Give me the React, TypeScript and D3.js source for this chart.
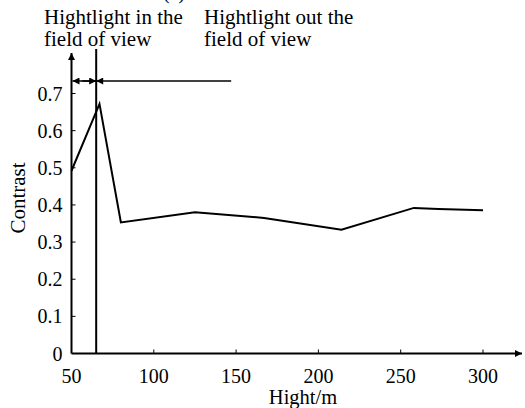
import React from "react";
import * as d3 from "d3";

const heights = [50, 67, 80, 125, 167, 214, 258, 273, 300];
const contrast = [0.492, 0.672, 0.353, 0.38, 0.365, 0.333, 0.392, 0.389, 0.386];
const xTicks = [50, 100, 150, 200, 250, 300];
const yTicks = [0, 0.1, 0.2, 0.3, 0.4, 0.5, 0.6, 0.7];
const boundary = 65;
const arrowEnd = 147;

const W = 525, H = 408;
const FONT = "'Liberation Serif', 'Times New Roman', serif";

export default function App() {
  const x = d3.scaleLinear().domain([50, 300]).range([71.5, 483]);
  const y = d3.scaleLinear().domain([0, 0.7]).range([353.5, 93.5]);
  const line = d3.line<number>().x((_, i) => x(heights[i])).y((d) => y(d));
  const x0 = x(50), y0 = y(0);
  const bx = x(boundary);
  const ay = 81;
  return (
    <svg width={W} height={H} style={{ position: "absolute", left: 0, top: 0, background: "#fff" }}
      fontFamily={FONT}>
      <defs>
        <marker id="ah" viewBox="0 0 10 10" refX="10" refY="5" markerWidth="10" markerHeight="7" orient="auto-start-reverse" markerUnits="userSpaceOnUse">
          <path d="M0,0 L10,5 L0,10 z" fill="#000" />
        </marker>
      </defs>
      <text x={163} y={-1} fontSize={20}>(a)</text>
      <line x1={x0} y1={y0} x2={522} y2={y0} stroke="#000" strokeWidth={2} markerEnd="url(#ah)" />
      <line x1={x0} y1={y0} x2={x0} y2={53} stroke="#000" strokeWidth={2} markerEnd="url(#ah)" />
      {xTicks.map((t) => (
        <g key={t}>
          {t !== 50 && <line x1={x(t)} x2={x(t)} y1={y0} y2={y0 - 4} stroke="#000" strokeWidth={1} />}
          <text x={x(t)} y={383} fontSize={20} textAnchor="middle">{t}</text>
        </g>
      ))}
      {yTicks.map((t) => (
        <g key={t}>
          {t !== 0 && <line x1={x0} x2={x0 + 4} y1={y(t)} y2={y(t)} stroke="#000" strokeWidth={1} />}
          <text x={x0 - 9} y={y(t) + 7} fontSize={20} textAnchor="end">{t === 0 ? "0" : t.toFixed(1)}</text>
        </g>
      ))}
      <text x={303} y={403.5} fontSize={20.5} textAnchor="middle">Hight/m</text>
      <text transform={`translate(25,198) rotate(-90)`} fontSize={21} textAnchor="middle">Contrast</text>
      <line x1={bx} x2={bx} y1={49} y2={y0} stroke="#000" strokeWidth={2} />
      <line x1={bx} x2={x0 + 1} y1={ay} y2={ay} stroke="#000" strokeWidth={1.5} markerEnd="url(#ah)" />
      <line x1={bx - 14} x2={bx} y1={ay} y2={ay} stroke="#000" strokeWidth={1.5} markerEnd="url(#ah)" />
      <line x1={x(arrowEnd)} x2={bx} y1={ay} y2={ay} stroke="#000" strokeWidth={1.5} markerEnd="url(#ah)" />
      <text x={44} y={24} fontSize={21}>Hightlight in the</text>
      <text x={44} y={46} fontSize={21}>field of view</text>
      <text x={204} y={24} fontSize={21}>Hightlight out the</text>
      <text x={204} y={46} fontSize={21}>field of view</text>
      <path d={line(contrast) || ""} fill="none" stroke="#000" strokeWidth={2} strokeLinejoin="miter" />
    </svg>
  );
}
